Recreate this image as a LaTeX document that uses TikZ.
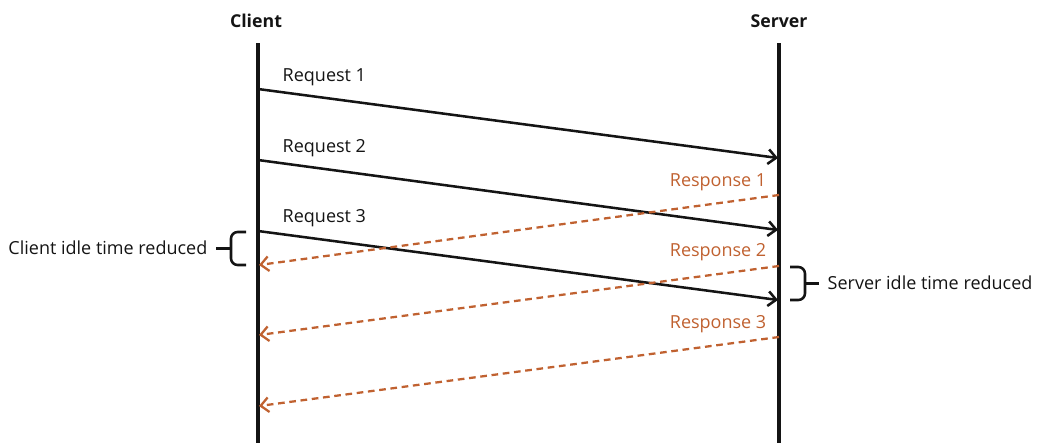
\documentclass[tikz,border=0pt]{standalone}
\usepackage{fontspec}
\setmainfont{Open Sans}
\usetikzlibrary{arrows.meta}
\definecolor{resp}{RGB}{192,97,48}
\definecolor{ink}{RGB}{20,20,20}
\begin{document}
\begin{tikzpicture}[x=0.75pt,y=-0.75pt,
  life/.style={line width=2.5pt,ink},
  req/.style={line width=1.9pt,ink,-{Straight Barb[length=6pt,width=11pt,line width=1.9pt]}},
  rsp/.style={line width=1.7pt,resp,dash pattern=on 5pt off 3.5pt,-{Straight Barb[length=6pt,width=11pt,line width=1.7pt]}},
  head/.style={font=\fontsize{13.3}{15}\selectfont\bfseries,ink},
  lbl/.style={font=\fontsize{13.5}{15}\selectfont,ink},
  rlbl/.style={font=\fontsize{13.5}{15}\selectfont,resp},
  brace/.style={line width=1.9pt,ink,rounded corners=5pt}]
\useasboundingbox (0,0) rectangle (1040,443);
\node[head] (client) at (256,21) {Client};
\node[head] (server) at (779,21) {Server};
\coordinate (ct) at (258,43); \coordinate (cb) at (258,443);
\coordinate (st) at (779,43); \coordinate (sb) at (779,443);
\draw[life] (ct) -- (cb);
\draw[life] (st) -- (sb);
% requests
\coordinate (q1a) at (258,89);  \coordinate (q1b) at (778,158);
\coordinate (q2a) at (258,160); \coordinate (q2b) at (778,230);
\coordinate (q3a) at (258,231); \coordinate (q3b) at (778,300);
\draw[req] (q1a) -- (q1b);
\draw[req] (q2a) -- (q2b);
\draw[req] (q3a) -- (q3b);
\node[lbl,anchor=west] (lq1) at (278,77) {Request 1};
\node[lbl,anchor=west] (lq2) at (278,148) {Request 2};
\node[lbl,anchor=west] (lq3) at (278,218) {Request 3};
% responses
\coordinate (r1a) at (779,195); \coordinate (r1b) at (259,265);
\coordinate (r2a) at (779,266); \coordinate (r2b) at (259,335);
\coordinate (r3a) at (779,337); \coordinate (r3b) at (259,406);
\draw[rsp] (r1a) -- (r1b);
\draw[rsp] (r2a) -- (r2b);
\draw[rsp] (r3a) -- (r3b);
\node[rlbl,anchor=east] (lr1) at (771,182) {Response 1};
\node[rlbl,anchor=east] (lr2) at (771,252) {Response 2};
\node[rlbl,anchor=east] (lr3) at (771,324) {Response 3};
% client brace
\coordinate (cbt) at (246,232); \coordinate (cbb) at (246,265);
\coordinate (cbm) at (231,248.5); \coordinate (cbk) at (216,248.5);
\draw[brace] (cbt) -- (231,232) -- (231,265) -- (cbb);
\draw[line width=1.9pt,ink] (cbm) -- (cbk);
\node[lbl,anchor=east] (cidle) at (212,248) {Client idle time reduced};
% server brace
\coordinate (sbt) at (790,267); \coordinate (sbb) at (790,300);
\coordinate (sbm) at (805,283.5); \coordinate (sbk) at (819,283.5);
\draw[brace] (sbt) -- (805,267) -- (805,300) -- (sbb);
\draw[line width=1.9pt,ink] (sbm) -- (sbk);
\node[lbl,anchor=west] (sidle) at (823,283) {Server idle time reduced};
\end{tikzpicture}
\end{document}
